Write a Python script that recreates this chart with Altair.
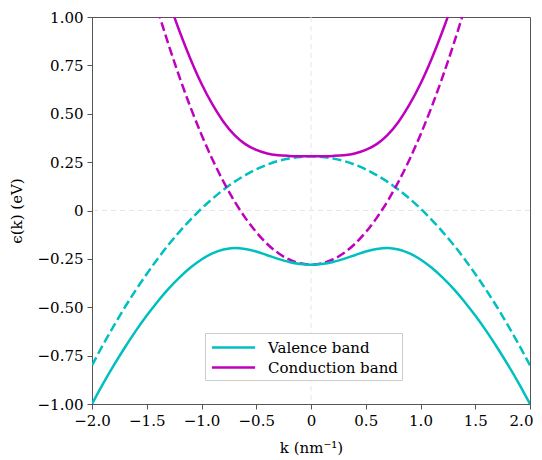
import altair as alt
import pandas as pd

# wave-vector samples (nm^-1)
K = [-2.0, -1.9, -1.8, -1.7, -1.6, -1.5, -1.4, -1.3, -1.2, -1.1, -1.0,
     -0.9, -0.8, -0.7, -0.6, -0.5, -0.4, -0.3, -0.2, -0.1, 0.0,
     0.1, 0.2, 0.3, 0.4, 0.5, 0.6, 0.7, 0.8, 0.9, 1.0,
     1.1, 1.2, 1.3, 1.4, 1.5, 1.6, 1.7, 1.8, 1.9, 2.0]

# uncoupled (dashed) bands, eV
COND_DASHED = [None, None, None, None, None, 1.232, 1.037, 0.856, 0.688, 0.533, 0.392,
               0.264, 0.150, 0.049, -0.038, -0.112, -0.173, -0.220, -0.253, -0.273, -0.280,
               -0.273, -0.253, -0.220, -0.173, -0.112, -0.038, 0.049, 0.150, 0.264, 0.392,
               0.533, 0.688, 0.856, 1.037, 1.232, None, None, None, None, None]
VAL_DASHED = [-0.800, -0.695, -0.595, -0.500, -0.411, -0.328, -0.249, -0.176, -0.109, -0.047, 0.010,
              0.061, 0.107, 0.148, 0.183, 0.213, 0.237, 0.256, 0.269, 0.277, 0.280,
              0.277, 0.269, 0.256, 0.237, 0.213, 0.183, 0.148, 0.107, 0.061, 0.010,
              -0.047, -0.109, -0.176, -0.249, -0.328, -0.411, -0.500, -0.595, -0.695, -0.800]

# coupled (solid) bands, eV
COND_SOLID = [None, None, None, None, None, None, 1.258, 1.084, 0.925, 0.782, 0.655,
              0.548, 0.459, 0.391, 0.343, 0.313, 0.295, 0.286, 0.282, 0.280, 0.280,
              0.280, 0.282, 0.286, 0.295, 0.313, 0.343, 0.391, 0.459, 0.548, 0.655,
              0.782, 0.925, 1.084, 1.258, None, None, None, None, None, None]
VAL_SOLID = [-1.000, -0.896, -0.799, -0.708, -0.622, -0.543, -0.470, -0.404, -0.346, -0.295, -0.253,
             -0.222, -0.202, -0.194, -0.199, -0.212, -0.231, -0.250, -0.266, -0.276, -0.280,
             -0.276, -0.266, -0.250, -0.231, -0.212, -0.199, -0.194, -0.202, -0.222, -0.253,
             -0.295, -0.346, -0.404, -0.470, -0.543, -0.622, -0.708, -0.799, -0.896, -1.000]

BANDS = ["Valence band", "Conduction band"]
COLORS = ["#00BFBF", "#BF00BF"]
X_TICKS = [-2.0, -1.5, -1.0, -0.5, 0.0, 0.5, 1.0, 1.5, 2.0]
Y_TICKS = [-1.0, -0.75, -0.5, -0.25, 0.0, 0.25, 0.5, 0.75, 1.0]

rows = []
for i, k in enumerate(K):
    for band, style, arr in [
        ("Valence band", "solid", VAL_SOLID),
        ("Conduction band", "solid", COND_SOLID),
        ("Valence band", "dashed", VAL_DASHED),
        ("Conduction band", "dashed", COND_DASHED),
    ]:
        if arr[i] is not None:
            rows.append({"k": k, "E": arr[i], "band": band, "style": style})
df = pd.DataFrame(rows)

FONT = "DejaVu Serif"
FS = 15

XS = alt.Scale(domain=[-2, 2], nice=False, zero=False)
YS = alt.Scale(domain=[-1, 1], nice=False, zero=False)

x = alt.X("k:Q", scale=XS,
          axis=alt.Axis(title="k (nm⁻¹)", values=X_TICKS,
                        labelExpr="datum.value == 0 ? '0' : format(datum.value, '.1f')",
                        grid=False, tickSize=5, labelPadding=4, titlePadding=12,
                        labelFlush=False,
                        labelOffset={"condition": {"test": "datum.value == 2", "value": -9},
                                     "value": 0}))
y = alt.Y("E:Q", scale=YS,
          axis=alt.Axis(title="ϵ(k) (eV)", values=Y_TICKS,
                        labelExpr="datum.value == 0 ? '0' : format(datum.value, '.2f')",
                        grid=False, tickSize=5, labelPadding=4, titlePadding=13,
                        labelFlush=False))
color = alt.Color("band:N", scale=alt.Scale(domain=BANDS, range=COLORS),
                  legend=alt.Legend(title=None, orient="none", legendX=113, legendY=316,
                                    symbolType="M-2.4,0H2.4", symbolSize=324,
                                    symbolStrokeWidth=2.5, symbolOffset=14,
                                    labelOffset=24, labelFontSize=FS, labelFont=FONT,
                                    strokeColor="#cccccc", fillColor="white",
                                    padding=4, rowPadding=1, labelColor="black"))

zero_df = pd.DataFrame({"k": [0.0], "E": [0.0]})
zero_x = alt.Chart(zero_df).mark_rule(
    color="#e6e6e6", strokeDash=[5, 4], strokeWidth=1).encode(x=alt.X("k:Q", scale=XS))
zero_y = alt.Chart(zero_df).mark_rule(
    color="#e6e6e6", strokeDash=[5, 4], strokeWidth=1).encode(y=alt.Y("E:Q", scale=YS))

dashed = alt.Chart(df).transform_filter(alt.datum.style == "dashed").mark_line(
    strokeWidth=2.5, strokeDash=[9, 4], clip=True, interpolate="monotone").encode(
    x=x, y=y, color=color, detail="band:N", order="k:Q")
solid = alt.Chart(df).transform_filter(alt.datum.style == "solid").mark_line(
    strokeWidth=2.5, clip=True, interpolate="monotone").encode(
    x=x, y=y, color=color, detail="band:N", order="k:Q")

chart = alt.layer(zero_x, zero_y, dashed, solid).properties(
    width=438, height=387,
    autosize=alt.AutoSizeParams(type="none"),
    padding={"left": 84, "top": 9, "right": 4, "bottom": 56},
).configure(font=FONT).configure_view(stroke="#555555", strokeWidth=1).configure_axis(
    domainColor="#555555", tickColor="#555555", labelFont=FONT, titleFont=FONT,
    labelFontSize=FS, titleFontSize=FS, labelColor="black", titleColor="black",
    titleFontWeight="normal",
)

chart.save("out.html", embed_options={"renderer": "svg", "actions": False})
